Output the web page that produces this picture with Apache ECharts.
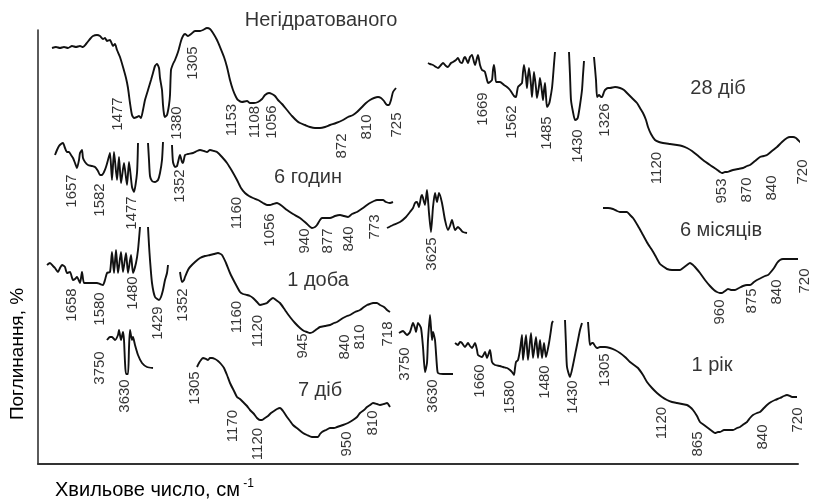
<!DOCTYPE html>
<html>
<head>
<meta charset="utf-8">
<script src="https://cdn.jsdelivr.net/npm/echarts@6/dist/echarts.min.js"></script>
<style>html,body{margin:0;padding:0;background:#fff}#c{width:818px;height:500px}</style>
</head>
<body>
<div id="c"></div>
<script>
// Trace points: [horizontal position, vertical position]
const unhydrated = [[52,48],[56,47],[60,48],[64,47],[68,48],[72,46],[76,47],[80,46],[83,47],[86,44],[90,39],[93,36],[97,35],[100,36],[103,39],[105,38],[107,41],[110,40],[113,46],[115,44],[117,50],[120,57],[123,67],[126,78],[128,88],[130,103],[132,115],[134,118],[137,117],[139,116],[141,118],[143,110],[145,100],[148,90],[151,80],[153,73],[155,66],[157,64],[159,68],[160,78],[162,90],[163,105],[164,114],[165,117],[167,115],[169,105],[170,95],[171,70],[173,64],[175,60],[178,52],[181,41],[183,36],[185,34],[188,36],[191,34],[195,31],[200,31],[203,30],[207,28],[210,29],[213,33],[217,40],[220,47],[224,57],[227,67],[230,80],[233,90],[236,97],[238,100],[242,102],[247,101],[250,103],[254,103],[258,102],[262,99],[265,95],[269,93],[272,94],[275,96],[278,100],[282,104],[287,110],[292,116],[297,121],[300,123],[305,125],[310,127],[315,128],[320,128],[325,127],[330,125],[336,123],[343,120],[348,117],[353,115],[357,112],[362,107],[366,103],[370,100],[374,98],[378,97],[381,98],[384,101],[387,105],[389,105],[391,100],[393,92],[396,88]];

const hours6A = [[55,155],[57,150],[59,146],[61,144],[63,143],[65,148],[67,152],[69,152],[71,155],[73,158],[75,163],[77,168],[79,160],[80,153],[82,150],[83,158],[85,162],[88,165],[92,166],[95,167],[98,171],[100,175],[102,175],[104,172],[106,167],[108,160],[110,153],[112,180],[114,152],[117,180],[119,157],[121,183],[124,163],[127,185],[129,162],[132,187],[134,192],[137,173],[138,143]];
const hours6B = [[148,143],[149,160],[150,176],[152,181],[155,182],[158,180],[160,173],[162,160],[163,142]];
const hours6C = [[172,145],[173,162],[175,167],[177,166],[179,158],[180,155],[182,162],[183,163],[185,155],[188,154],[193,153],[197,151],[200,150],[204,151],[207,152],[210,150],[214,151],[217,152],[222,157],[227,163],[232,171],[237,180],[241,188],[245,193],[249,196],[253,198],[258,200],[263,203],[267,205],[270,205],[273,204],[277,203],[282,206],[287,210],[293,214],[300,218],[306,223],[312,228],[315,227],[317,225],[320,220],[322,218],[326,218],[330,218],[335,216],[340,215],[344,216],[348,217],[352,214],[357,212],[360,210],[363,208],[367,205],[370,203],[374,201],[377,200],[380,200],[383,200],[386,202],[390,203],[393,202]];
const hours6OH = [[387,228],[393,225],[400,222],[406,217],[410,212],[413,208],[415,203],[417,202],[419,207],[421,197],[422,195],[424,202],[425,205],[427,190],[429,213],[431,232],[433,207],[435,193],[437,202],[439,193],[442,203],[445,220],[448,230],[450,226],[452,220],[455,230],[458,227],[461,230],[463,232],[467,233]];

const day1A = [[47,265],[50,263],[53,266],[55,268],[58,272],[60,268],[62,265],[64,266],[65,267],[67,273],[70,272],[73,280],[75,279],[77,277],[80,283],[82,272],[84,283],[88,283],[93,283],[97,283],[100,284],[103,285],[105,280],[107,273],[110,272],[112,252],[114,273],[116,250],[118,273],[121,252],[123,272],[126,253],[128,273],[131,255],[133,273],[136,263],[138,250],[140,227]];
const day1B = [[148,227],[149,245],[150,260],[152,283],[155,297],[159,300],[161,297],[163,290],[165,280],[167,273],[168,265]];
const day1C = [[180,272],[182,282],[184,280],[185,277],[188,270],[190,267],[195,262],[200,258],[205,256],[210,255],[214,254],[218,253],[222,255],[226,263],[230,273],[235,283],[240,292],[243,294],[247,295],[250,296],[253,298],[257,302],[260,305],[264,304],[267,303],[270,300],[273,298],[276,300],[280,303],[285,310],[290,317],[295,323],[300,328],[304,331],[307,332],[310,333],[313,332],[317,329],[320,327],[325,326],[330,325],[334,323],[337,322],[340,320],[343,318],[347,316],[350,315],[355,312],[360,310],[364,307],[367,305],[370,304],[373,303],[377,303],[380,305],[384,307],[387,310],[390,312]];

const days7OH = [[107,340],[110,337],[112,337],[115,340],[118,335],[119,330],[121,340],[123,332],[124,340],[125,362],[126,374],[128,374],[129,348],[130,330],[132,340],[133,337],[135,345],[138,355],[142,363],[147,367],[153,368]];
const days7 = [[197,367],[199,363],[201,360],[203,358],[206,359],[208,360],[210,358],[212,358],[215,359],[218,361],[221,364],[224,368],[227,375],[230,383],[234,391],[237,397],[240,399],[243,402],[247,406],[250,410],[254,414],[257,418],[260,420],[262,420],[265,418],[268,416],[271,413],[274,411],[277,409],[280,408],[283,411],[287,417],[290,421],[293,425],[298,429],[303,433],[307,435],[312,437],[315,437],[318,437],[320,434],[322,432],[326,430],[330,428],[334,428],[337,427],[340,426],[343,425],[348,423],[353,420],[357,417],[360,413],[364,410],[367,407],[370,405],[373,403],[377,404],[380,405],[384,404],[387,403],[390,407]];

const days28A = [[428,63],[430,64],[433,65],[436,67],[438,68],[441,65],[443,63],[446,66],[448,67],[451,63],[453,62],[456,60],[458,58],[460,62],[462,63],[464,58],[465,57],[467,61],[468,63],[470,57],[472,55],[474,62],[475,65],[477,58],[478,55],[480,65],[482,70],[484,71],[485,72],[487,80],[488,83],[490,82],[492,80],[493,70],[494,65],[495,72],[496,82],[498,82],[500,82],[504,85],[507,87],[510,90],[512,93],[514,96],[516,97],[517,92],[518,87],[520,85],[522,83],[523,72],[524,65],[526,78],[527,88],[528,76],[529,68],[531,85],[532,97],[533,84],[534,72],[536,88],[537,98],[539,86],[540,78],[542,92],[543,100],[544,90],[545,83],[546,96],[547,107],[549,104],[550,100],[552,88],[553,77],[554,64],[555,52]];
const days28B = [[569,52],[570,75],[571,100],[573,112],[575,120],[577,119],[578,117],[580,105],[582,90],[583,75],[584,61]];
const days28C = [[594,57],[596,80],[597,97],[598,96],[599,95],[601,97],[602,97],[604,92],[605,90],[608,88],[610,88],[615,87],[620,88],[624,90],[627,93],[632,98],[637,103],[640,108],[643,113],[646,120],[648,127],[651,134],[655,140],[659,142],[663,143],[670,144],[677,145],[682,146],[687,148],[692,151],[697,155],[703,160],[710,165],[716,169],[720,172],[722,173],[725,172],[727,172],[730,171],[733,170],[738,169],[743,168],[747,166],[750,165],[755,161],[760,157],[764,156],[767,155],[772,151],[777,147],[782,142],[787,138],[790,137],[793,137],[796,138],[798,140],[801,143]];

const months6 = [[603,208],[608,208],[613,209],[617,211],[620,212],[624,212],[627,212],[630,215],[633,218],[638,226],[643,235],[648,244],[652,250],[656,257],[660,264],[664,267],[667,269],[672,270],[677,270],[680,270],[683,268],[687,265],[690,263],[693,265],[695,267],[700,273],[705,280],[710,286],[714,290],[717,292],[720,293],[722,293],[725,291],[728,289],[731,290],[735,290],[739,288],[743,286],[747,285],[750,285],[754,282],[757,280],[761,278],[765,276],[768,275],[770,273],[774,268],[777,263],[780,260],[783,259],[790,259],[798,259]];

const year1OH = [[399,333],[403,331],[405,333],[407,335],[410,332],[413,323],[415,328],[416,332],[418,323],[421,328],[423,347],[425,372],[427,363],[428,340],[430,315],[432,340],[433,332],[435,340],[437,367],[438,373],[443,374],[448,374],[453,374]];
const year1A = [[455,343],[458,345],[460,342],[462,343],[465,347],[468,343],[470,346],[472,348],[475,343],[477,350],[478,355],[482,357],[485,352],[487,358],[490,350],[492,362],[495,365],[500,366],[503,367],[507,368],[510,370],[512,372],[514,375],[515,368],[516,362],[518,360],[520,350],[522,335],[523,360],[526,335],[528,360],[531,333],[533,358],[536,337],[538,358],[540,340],[542,358],[544,343],[546,357],[549,343],[551,330],[552,323],[553,321]];
const year1B = [[565,320],[566,345],[567,367],[570,377],[573,365],[576,350],[578,340],[580,330],[582,323]];
const year1C = [[588,322],[589,335],[590,345],[592,343],[593,343],[595,346],[597,348],[600,347],[605,347],[610,348],[615,350],[620,353],[625,357],[630,362],[634,365],[638,368],[643,375],[647,382],[652,388],[657,393],[662,397],[667,400],[672,402],[677,403],[682,404],[687,405],[690,407],[693,410],[697,416],[700,422],[704,425],[708,428],[712,431],[715,433],[718,432],[720,432],[724,430],[727,430],[730,430],[733,430],[737,428],[740,427],[744,424],[747,422],[750,418],[753,415],[757,413],[760,412],[764,408],[767,405],[771,402],[775,400],[780,398],[784,396],[787,395],[790,396],[792,397],[797,397]];

// Wavenumber labels: [x, y, text]
const peaksUnhydrated = [[118,114,'1477'],[193,63,'1305'],[177,123,'1380'],[232,120,'1153'],[255,122,'1108'],[272,122,'1056'],[342,146,'872'],[367,127,'810'],[397,125,'725']];
const peaks6h = [[72,191,'1657'],[100,200,'1582'],[132,213,'1477'],[180,186,'1352'],[237,213,'1160'],[270,230,'1056'],[305,241,'940'],[328,241,'877'],[349,239,'840'],[375,227,'773'],[432,254,'3625']];
const peaks1d = [[72,305,'1658'],[100,309,'1580'],[133,293,'1480'],[158,323,'1429'],[183,305,'1352'],[237,317,'1160'],[258,331,'1120'],[303,346,'945'],[345,347,'840'],[360,337,'810'],[388,334,'718']];
const peaks7d = [[100,368,'3750'],[125,396,'3630'],[195,388,'1305'],[233,426,'1170'],[258,444,'1120'],[347,444,'950'],[373,423,'810']];
const peaks28d = [[483,109,'1669'],[512,122,'1562'],[547,133,'1485'],[578,146,'1430'],[605,120,'1326'],[657,168,'1120'],[722,191,'953'],[747,190,'870'],[772,188,'840'],[803,172,'720']];
const peaks6m = [[720,312,'960'],[752,301,'875'],[777,292,'840'],[805,281,'720']];
const peaks1y = [[405,364,'3750'],[433,396,'3630'],[480,381,'1660'],[510,397,'1580'],[545,382,'1480'],[573,397,'1430'],[605,370,'1305'],[662,423,'1120'],[698,444,'865'],[763,437,'840'],[798,420,'720']];

// Curve names
const curveNames = [[321,20,'Негідратованого'],[308,177,'6 годин'],[318,280,'1 доба'],[320,390,'7 діб'],[718,88,'28 діб'],[721,230,'6 місяців'],[712,365,'1 рік']];

const yTitle = 'Поглинання, %';
const xTitle = 'Хвильове число, см';
const xTitleSup = '-1';

const FONT = '"Liberation Sans", Arial, Helvetica, sans-serif';
const INK = '#000000';

const segments = [unhydrated, hours6A, hours6B, hours6C, hours6OH, day1A, day1B, day1C, days7OH, days7,
  days28A, days28B, days28C, months6, year1OH, year1A, year1B, year1C];
const peakSets = [peaksUnhydrated, peaks6h, peaks1d, peaks7d, peaks28d, peaks6m, peaks1y];

const series = [];
segments.forEach(seg => series.push({
  type: 'line', data: seg, showSymbol: false, symbol: 'none', smooth: 0.2, clip: false,
  silent: true, animation: false,
  lineStyle: { color: '#111', width: 1.9 }
}));
function textSeries(arr, size, rotate) {
  return {
    type: 'scatter', clip: false, silent: true, animation: false,
    symbolSize: 1, itemStyle: { color: 'rgba(0,0,0,0)' },
    data: arr.map(d => ({ value: [d[0], d[1]], name: d[2] })),
    label: { show: true, formatter: '{b}', position: 'inside', rotate: rotate,
      align: 'center', verticalAlign: 'middle',
      fontSize: size, color: INK, fontFamily: FONT },
    emphasis: { disabled: true }
  };
}
peakSets.forEach(p => series.push(textSeries(p, 15, 90)));
series.push(textSeries(curveNames, 20, 0));

const chart = echarts.init(document.getElementById('c'), null, { renderer: 'canvas' });
chart.setOption({
  animation: false,
  backgroundColor: '#fff',
  grid: { left: 38, right: 20, top: 30, bottom: 36 },
  xAxis: { type: 'value', min: 38, max: 798,
    axisLine: { show: true, lineStyle: { color: '#333', width: 2 } },
    axisTick: { show: false }, axisLabel: { show: false }, splitLine: { show: false } },
  yAxis: { type: 'value', min: 30, max: 464, inverse: true,
    axisLine: { show: true, onZero: false, lineStyle: { color: '#333', width: 1.6 } },
    axisTick: { show: false }, axisLabel: { show: false }, splitLine: { show: false } },
  graphic: [
    { type: 'text', x: 18, y: 354, rotation: Math.PI / 2,
      style: { text: yTitle, fontSize: 19, fontFamily: FONT, fill: INK, align: 'center', verticalAlign: 'middle' } },
    { type: 'text', left: 55, top: 478,
      style: { text: '{a|' + xTitle + '}{s| ' + xTitleSup + '}', fontFamily: FONT, fill: INK,
        rich: { a: { fontSize: 20, fontFamily: FONT, fill: INK, lineHeight: 24 },
                s: { fontSize: 12, fontFamily: FONT, fill: INK, verticalAlign: 'top', lineHeight: 12 } } } }
  ],
  series: series
});
</script>
</body>
</html>
